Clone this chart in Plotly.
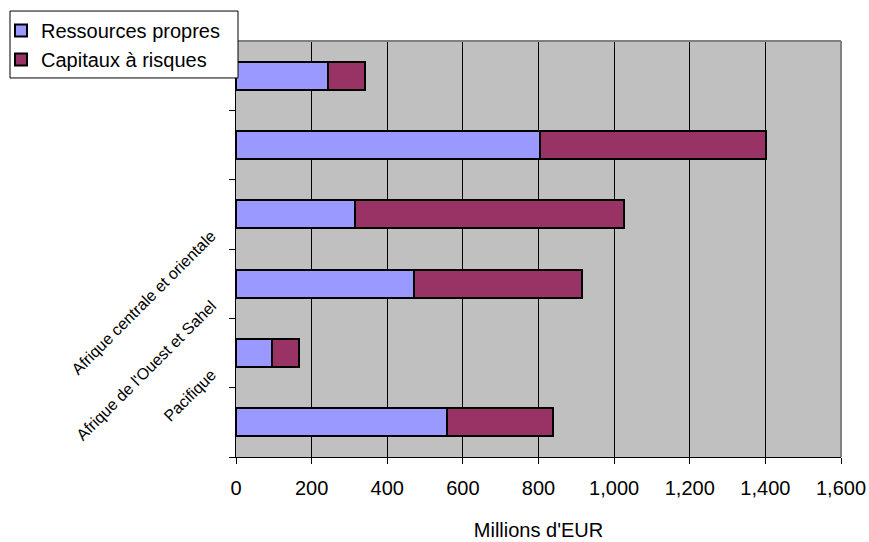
import plotly.graph_objects as go

# Data (top to bottom as displayed)
categories = ["", "", "", "Afrique centrale et orientale", "Afrique de l'Ouest et Sahel", "Pacifique"]
ressources_propres = [243, 804, 315, 471, 95, 557]
capitaux_risques = [97, 598, 711, 445, 71, 282]
x_ticks = [0, 200, 400, 600, 800, 1000, 1200, 1400, 1600]

FONT = "Liberation Sans, Arial, sans-serif"
positions = list(range(len(categories)))

PL, PR, PT, PB = 236, 841, 41, 457.5
PW, PH = PR - PL, PB - PT


def px_x(v):
    return (v - PL) / PW


def px_y(v):
    return (PB - v) / PH


fig = go.Figure()
fig.add_trace(go.Bar(
    y=positions, x=ressources_propres, orientation="h", name="Ressources propres",
    marker=dict(color="#9999FF", line=dict(color="black", width=2)),
))
fig.add_trace(go.Bar(
    y=positions, x=capitaux_risques, orientation="h", name="Capitaux à risques",
    marker=dict(color="#993366", line=dict(color="black", width=2)),
))

annotations = []
for i, c in enumerate(categories):
    if c:
        annotations.append(dict(
            x=0, xref="paper", y=i, yref="y", text=c, showarrow=False,
            textangle=-45, xanchor="right", yanchor="top", xshift=-14, yshift=59,
            font=dict(family=FONT, size=16, color="black"),
        ))

fig.update_layout(
    width=869, height=542,
    margin=dict(l=PL, r=869 - PR, t=PT, b=542 - PB, autoexpand=False),
    paper_bgcolor="white", plot_bgcolor="#C0C0C0",
    barmode="stack", bargap=0.6,
    font=dict(family=FONT, size=20, color="black"),
    showlegend=True,
    legend=dict(
        x=px_x(1), y=px_y(11), xanchor="left", yanchor="top",
        bgcolor="rgba(0,0,0,0)", borderwidth=0,
        font=dict(family=FONT, size=20, color="black"),
        traceorder="normal",
    ),
    xaxis=dict(
        range=[0, 1600], tickvals=x_ticks, tickformat=",d",
        showgrid=True, gridcolor="black", gridwidth=1,
        showline=True, linecolor="black", linewidth=1,
        ticks="outside", ticklen=6, tickcolor="black",
        ticklabelstandoff=7, automargin=False,
        zeroline=False,
        title=dict(text="Millions d'EUR", standoff=24, font=dict(family=FONT, size=20)),
    ),
    yaxis=dict(
        range=[len(categories) - 0.5, -0.5],
        tickvals=[p - 0.5 for p in positions] + [len(categories) - 0.5],
        showticklabels=False, showgrid=False, zeroline=False,
        showline=True, linecolor="black", linewidth=1, automargin=False,
        ticks="outside", ticklen=6, tickcolor="black",
    ),
    annotations=annotations,
    shapes=[
        dict(type="line", xref="paper", yref="paper", x0=0, x1=1, y0=1, y1=1,
             line=dict(color="#808080", width=2), layer="above"),
        dict(type="line", xref="paper", yref="paper", x0=1, x1=1, y0=0, y1=1,
             line=dict(color="#808080", width=2), layer="above"),
        dict(type="rect", xref="paper", yref="paper",
             x0=px_x(10), x1=px_x(238), y0=px_y(78), y1=px_y(11),
             fillcolor="white", line=dict(color="black", width=1), layer="above"),
    ],
)

fig.write_html("out.html")
